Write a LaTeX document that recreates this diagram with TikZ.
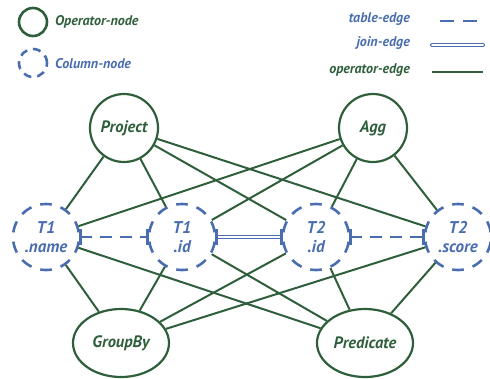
\documentclass[tikz,border=0pt]{standalone}
\usepackage{fontspec}
\setmainfont{PT Sans}
\usetikzlibrary{shapes.geometric}
\definecolor{opgreen}{HTML}{2F5F3A}
\definecolor{colblue}{HTML}{4A6DB0}
\begin{document}
\begin{tikzpicture}[x=1pt,y=-1pt,
  oplbl/.style={font=\bfseries\itshape\fontsize{16.5}{19}\selectfont},
  collbl/.style={font=\bfseries\itshape\fontsize{17}{19}\selectfont},
  opnode/.style={oplbl,circle,draw=opgreen,line width=2.2pt,minimum size=68pt,inner sep=0pt,text=opgreen},
  opell/.style={oplbl,ellipse,draw=opgreen,line width=2.2pt,minimum width=96pt,minimum height=68pt,inner sep=0pt,text=opgreen},
  colnode/.style={collbl,circle,draw=colblue,line width=2.6pt,dash pattern=on 11.5pt off 9.23pt,dash phase=16.1pt,minimum size=66pt,inner sep=0pt,align=center,text=colblue},
  opedge/.style={draw=opgreen,line width=2pt},
  tabedge/.style={draw=colblue,line width=2.4pt,dash pattern=on 12pt off 8pt},
  joinedge/.style={draw=colblue,double=white,double distance=2pt,line width=1pt},
  barmark/.style={draw=colblue,line width=2.6pt},
  legtext/.style={font=\bfseries\itshape\fontsize{14}{16}\selectfont,inner sep=0pt}
]
\useasboundingbox (0,0) rectangle (490,378);

% legend
\node[circle,draw=opgreen,line width=2.6pt,minimum size=28pt,inner sep=0pt] (legop) at (33,22) {};
\node[legtext,text=opgreen,anchor=west] (legoptxt) at (55,22) {Operator-node};
\node[circle,draw=colblue,line width=2.6pt,dash pattern=on 8pt off 6pt,minimum size=28pt,inner sep=0pt] (legcol) at (33,63) {};
\node[legtext,text=colblue,anchor=west] (legcoltxt) at (55,64) {Column-node};

\node[legtext,text=colblue,anchor=east] (legtab) at (410,19) {table-edge};
\coordinate (ta) at (440,21); \coordinate (tb) at (483,21);
\draw[draw=colblue,line width=2.4pt,dash pattern=on 14pt off 9pt] (ta) -- (tb);
\node[legtext,text=colblue,anchor=east] (legjoin) at (410,43) {join-edge};
\coordinate (ja) at (432,45); \coordinate (jb) at (483,45);
\draw[joinedge,line cap=round] (ja) -- (jb);
\node[legtext,text=opgreen,anchor=east] (legope) at (410,70) {operator-edge};
\coordinate (oa) at (432,72); \coordinate (ob) at (483,72);
\draw[opedge,line width=2.2pt] (oa) -- (ob);

% nodes
\node[opnode] (project) at (124,128) {Project};
\node[opnode] (agg) at (373,128) {Agg};
\node[colnode] (t1name) at (46,237) {T1\\.name};
\node[colnode] (t1id) at (182,237) {T1\\.id};
\node[colnode] (t2id) at (316,237) {T2\\.id};
\node[colnode] (t2score) at (458,237) {T2\\.score};
\node[opell] (groupby) at (121,343) {GroupBy};
\node[opell] (predicate) at (365,343) {Predicate};

% operator edges
\foreach \o in {project,agg,groupby,predicate}
  \foreach \c in {t1name,t1id,t2id,t2score}
    \draw[opedge] (\o) -- (\c);

% table and join edges
\draw[tabedge] (t1name) -- (t1id);
\draw[tabedge] (t2id) -- (t2score);
\draw[joinedge] (t1id) -- (t2id);

% bar ends of the column edges
\foreach \n in {t1id,t2id,t2score}
  \draw[barmark] ([yshift=-8pt]\n.west) -- ([yshift=8pt]\n.west);
\foreach \n in {t1name,t1id,t2id}
  \draw[barmark] ([yshift=-8pt]\n.east) -- ([yshift=8pt]\n.east);
\end{tikzpicture}
\end{document}
